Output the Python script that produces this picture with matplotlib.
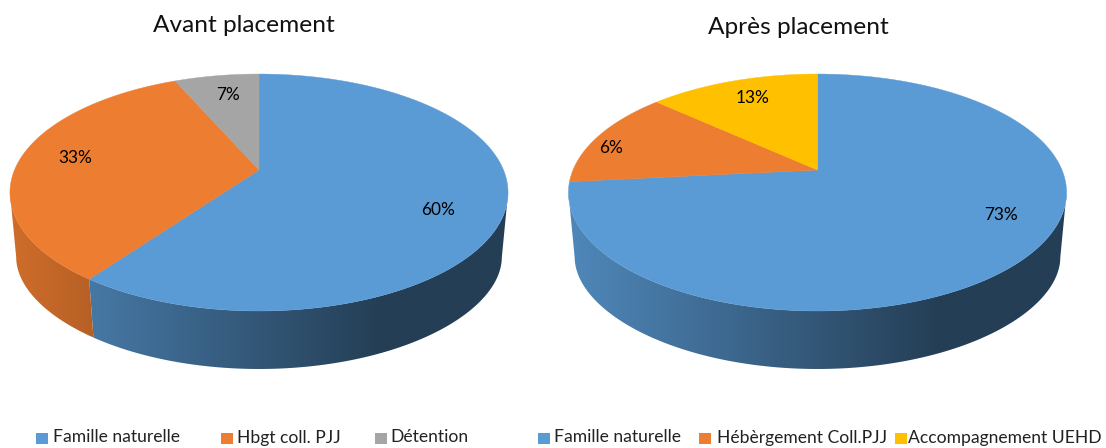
#!/usr/bin/env python3
"""
Two 3D-looking pie charts, before and after placement.
"""

import numpy as np
import matplotlib
matplotlib.use("Agg")
import matplotlib.pyplot as plt
from matplotlib.colors import to_rgb
from matplotlib.patches import Polygon

plt.rcParams['font.family'] = ['Lato', 'DejaVu Sans']

# data: the wedge shares are what is drawn, the labels what is printed on them
avant_names = ['Famille naturelle', 'Hbgt coll. PJJ', 'Détention']
avant_shares = [60, 33.4, 6.6]
avant_labels = ['60%', '33%', '7%']

apres_names = ['Famille naturelle', 'Hébèrgement Coll.PJJ', 'Accompagnement UEHD']
apres_shares = [73.4, 13.3, 13.3]
apres_labels = ['73%', '6%', '13%']

# styles and layout, in pixels of the 1106x448 picture
BLUE = '#5B9BD5'
ORANGE = '#ED7D31'
GREY = '#A5A5A5'
YELLOW = '#FFC000'

A = 244.5     # horizontal radius
B = 114.2     # vertical radius
K = 0.19      # perspective strength
DROP = 58.0   # thickness of the pie
SHRINK = 0.975  # the lower rim is a little narrower
TOP_Y = 170


def project(u, v, cx, lower=False):
    """Unit circle point to picture pixels."""
    d = 1 + K * v
    if lower:
        drop = DROP + 10 * (1 - np.abs(v)) ** 2
        return cx + A * SHRINK * u / d, TOP_Y + drop - B * v / d
    return cx + A * u / d, TOP_Y - B * v / d


def draw_wall(ax, cx, start, stop, color):
    """Side wall of one wedge: a left to right gradient clipped to its outline."""
    t = np.linspace(start, stop, 720)
    t = t[np.cos(t) < -K]   # from where the top rim is at its widest
    if len(t) < 2:
        return
    u, v = np.sin(t), np.cos(t)
    x0, y0 = project(u, v, cx)
    x1, y1 = project(u, v, cx, True)
    outline = np.column_stack((np.r_[x0, x1[::-1]], np.r_[y0, y1[::-1]]))

    left, right = outline[:, 0].min() - 2, outline[:, 0].max() + 2
    xs = np.linspace(left, right, 400)
    dark = np.clip(0.87 - ((xs - cx) / A + 1) * 0.47 / 1.5, 0.40, 1.0)
    strip = dark[None, :, None] * np.array(to_rgb(color))[None, None, :]
    im = ax.imshow(strip, extent=(left, right, outline[:, 1].max() + 2,
                                  outline[:, 1].min() - 2),
                   aspect='auto', interpolation='bilinear', zorder=1)
    im.set_clip_path(Polygon(outline, closed=True, transform=ax.transData))


def draw_pie(ax, cx, shares, colors):
    total = sum(shares)
    edges = np.concatenate(([0], np.cumsum(shares))) / total * 2 * np.pi

    for start, stop, color in zip(edges[:-1], edges[1:], colors):
        draw_wall(ax, cx, start, stop, color)

    for start, stop, color in zip(edges[:-1], edges[1:], colors):
        t = np.linspace(start, stop, 240)
        x, y = project(np.sin(t), np.cos(t), cx)
        pts = np.column_stack((np.r_[cx, x], np.r_[TOP_Y, y]))
        ax.add_patch(Polygon(pts, closed=True, facecolor=color, edgecolor=color,
                             linewidth=0.3, zorder=2))


def draw_legend(ax, names, colors, boxes, texts):
    for name, color, bx, tx in zip(names, colors, boxes, texts):
        ax.add_patch(plt.Rectangle((bx, 433), 11.5, 11.5, facecolor=color,
                                   edgecolor='none'))
        ax.text(tx, 437.5, name, fontsize=12.6, va='center', ha='left',
                color='#222222')


def main():
    fig = plt.figure(figsize=(11.06, 4.48), dpi=100)
    ax = fig.add_axes([0, 0, 1, 1])
    ax.axis('off')

    avant_colors = [BLUE, ORANGE, GREY]
    apres_colors = [BLUE, ORANGE, YELLOW]
    draw_pie(ax, 259, avant_shares, avant_colors)
    draw_pie(ax, 817.5, apres_shares, apres_colors)

    # imshow changes the limits, so set them afterwards
    ax.set_xlim(0, 1106)
    ax.set_ylim(448, 0)

    ax.text(244, 25, 'Avant placement', fontsize=17.6, ha='center', va='center',
            color='#111111')
    ax.text(798.5, 28, 'Après placement', fontsize=17.6, ha='center', va='center',
            color='#111111')

    avant_pos = [(438, 210), (75, 158), (228, 95)]
    apres_pos = [(1001, 215), (611, 148), (753, 98)]
    for labels, positions in ((avant_labels, avant_pos), (apres_labels, apres_pos)):
        for text, (x, y) in zip(labels, positions):
            ax.text(x, y, text, fontsize=12.4, ha='center', va='center',
                    color='black', zorder=3)

    draw_legend(ax, avant_names, avant_colors, [36, 221, 375], [53, 237, 390])
    draw_legend(ax, apres_names, apres_colors, [538, 699, 895], [554, 717, 908])

    fig.savefig('out.png', dpi=100)


if __name__ == "__main__":
    main()
